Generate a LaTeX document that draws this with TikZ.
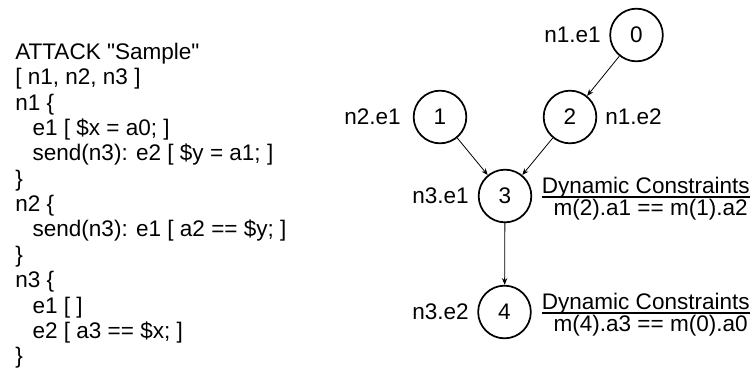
\documentclass[tikz,border=0pt]{standalone}
\usepackage{fontspec}
\setmainfont{Liberation Sans}[Ligatures=TeXOff]
\usetikzlibrary{arrows.meta}
\begin{document}
\begin{tikzpicture}[x=0.75pt,y=-0.75pt,
  every node/.style={font=\fontsize{16.9}{17}\selectfont, inner sep=0pt},
  ev/.style={circle, draw, line width=1.3pt, minimum size=39.5pt},
  codeline/.style={anchor=base west},
  flow/.style={line width=0.6pt, -{Stealth[length=5pt,width=4pt]}},
  underl/.style={line width=1.1pt}
]
\useasboundingbox (0,0) rectangle (751,371);

% the attack description
\def\ind{\hspace*{13pt}}
\node[codeline] (c1)  at (15,59.5)   {ATTACK "Sample"};
\node[codeline] (c2)  at (15,84.85)  {[ n1, n2, n3 ]};
\node[codeline] (c3)  at (15,110.2)  {n1 \{};
\node[codeline] (c4)  at (15,135.55) {\ind e1 [ \$x = a0; ]};
\node[codeline] (c5)  at (15,160.9)  {\ind send(n3): e2 [ \$y = a1; ]};
\node[codeline] (c6)  at (15,186.25) {\}};
\node[codeline] (c7)  at (15,211.6)  {n2 \{};
\node[codeline] (c8)  at (15,236.95) {\ind send(n3): e1 [ a2 == \$y; ]};
\node[codeline] (c9)  at (15,262.3)  {\}};
\node[codeline] (c10) at (15,287.65) {n3 \{};
\node[codeline] (c11) at (15,313)    {\ind e1 [ ]};
\node[codeline] (c12) at (15,338.35) {\ind e2 [ a3 == \$x; ]};
\node[codeline] (c13) at (15,363.7)  {\}};

% event graph
\node[ev] (e0) at (636.5,35)  {0};
\node[ev] (e1) at (440,117)   {1};
\node[ev] (e2) at (570,117)   {2};
\node[ev] (e3) at (505,196)   {3};
\node[ev] (e4) at (504.5,312) {4};

\node[anchor=east] (l0) at (601,35)  {n1.e1};
\node[anchor=west] (l2) at (605,117) {n1.e2};
\node[anchor=east] (l1) at (401,117) {n2.e1};
\node[anchor=east] (l3) at (469,196) {n3.e1};
\node[anchor=east] (l4) at (469,312) {n3.e2};

\draw[flow] (e0) -- (e2);
\draw[flow] (e1) -- (e3);
\draw[flow] (e2) -- (e3);
\draw[flow] (e3) -- (e4);

% dynamic constraints
\node[anchor=base east] (d3h) at (750,193) {Dynamic Constraints};
\node[anchor=base east] (d3c) at (748,215) {m(2).a1 == m(1).a2};
\draw[underl] ([yshift=-3pt]d3h.base west) -- ([yshift=-3pt]d3h.base east);

\node[anchor=base east] (d4h) at (750,309) {Dynamic Constraints};
\node[anchor=base east] (d4c) at (748,331) {m(4).a3 == m(0).a0};
\draw[underl] ([yshift=-3pt]d4h.base west) -- ([yshift=-3pt]d4h.base east);
\end{tikzpicture}
\end{document}
